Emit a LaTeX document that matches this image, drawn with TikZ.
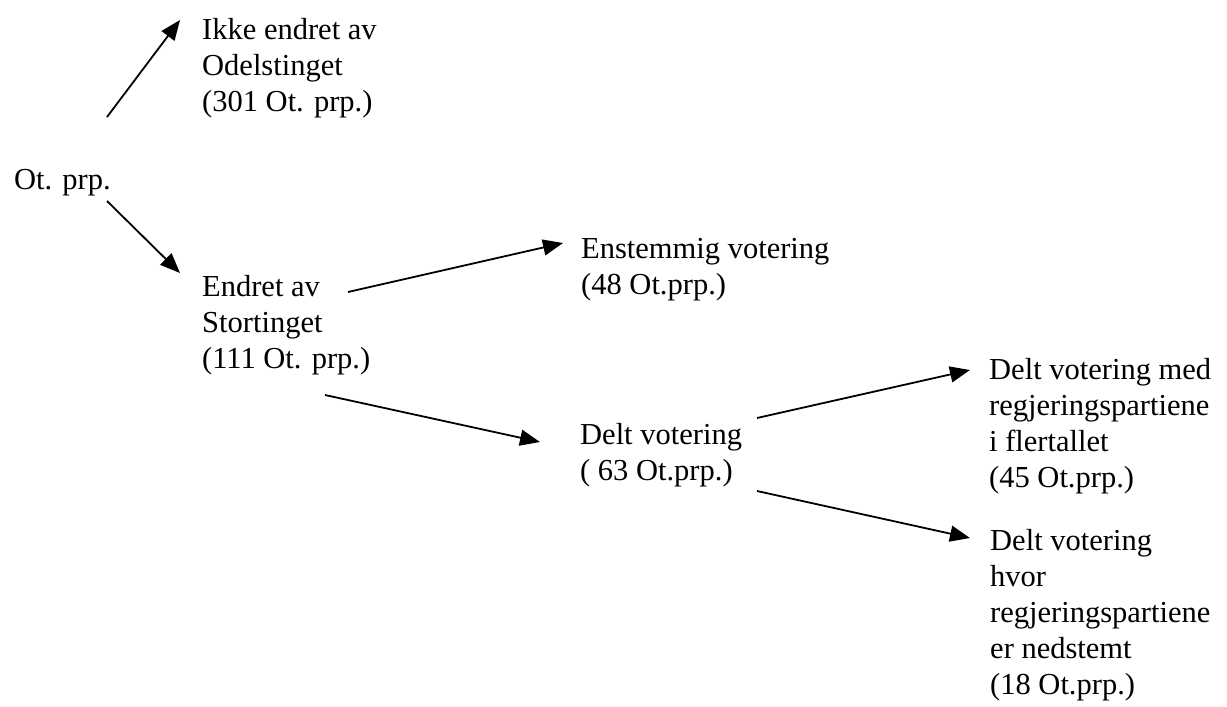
\documentclass[tikz,border=0pt]{standalone}
\usepackage{fontspec}
\setmainfont{Liberation Serif}
\usetikzlibrary{arrows.meta,calc}

\tikzset{
  txt/.style={anchor=north west, inner sep=0pt, align=left,
              font=\fontsize{30.5}{36}\selectfont},
  arr/.style={line width=1.8pt, -{Triangle[length=20pt,width=16pt]}}
}

\begin{document}
\begin{tikzpicture}[x=1pt,y=-1pt]
  \useasboundingbox (0,0) rectangle (1227,707);

  % labels (north west corner sits one strut height above the first baseline)
  \node[txt] (ikke)   at (202,13.8)  {\strut Ikke endret av\\\strut Odelstinget\\\strut (301 Ot. prp.)};
  \node[txt] (ot)     at (14,163.8)  {\strut Ot. prp.};
  \node[txt] (endret) at (202,270.8) {\strut Endret av\\\strut Stortinget\\\strut (111 Ot. prp.)};
  \node[txt] (enst)   at (581,232.8) {\strut Enstemmig votering\\\strut (48 Ot.prp.)};
  \node[txt] (delt)   at (580,418.8) {\strut Delt votering\\\strut ( 63 Ot.prp.)};
  \node[txt] (med)    at (989,353.8) {\strut Delt votering med\\\strut regjeringspartiene\\\strut i flertallet\\\strut (45 Ot.prp.)};
  \node[txt] (hvor)   at (990,524.8) {\strut Delt votering\\\strut hvor\\\strut regjeringspartiene\\\strut er nedstemt\\\strut (18 Ot.prp.)};

  % connectors
  \draw[arr] ($(ot.north west)+(93,-46.8)$)      -- ($(ikke.north west)+(-22,6.2)$);
  \draw[arr] ($(ot.north west)+(93,37.2)$)       -- ($(endret.north west)+(-22,2.2)$);
  \draw[arr] ($(endret.north west)+(146,21.2)$)  -- ($(enst.north west)+(-18,10.2)$);
  \draw[arr] ($(endret.north west)+(123,124.2)$) -- ($(delt.north west)+(-40,23.2)$);
  \draw[arr] ($(delt.north west)+(177,-0.8)$)    -- ($(med.north west)+(-19,16.2)$);
  \draw[arr] ($(delt.north west)+(177,72.2)$)    -- ($(hvor.north west)+(-20,13.2)$);
\end{tikzpicture}
\end{document}
